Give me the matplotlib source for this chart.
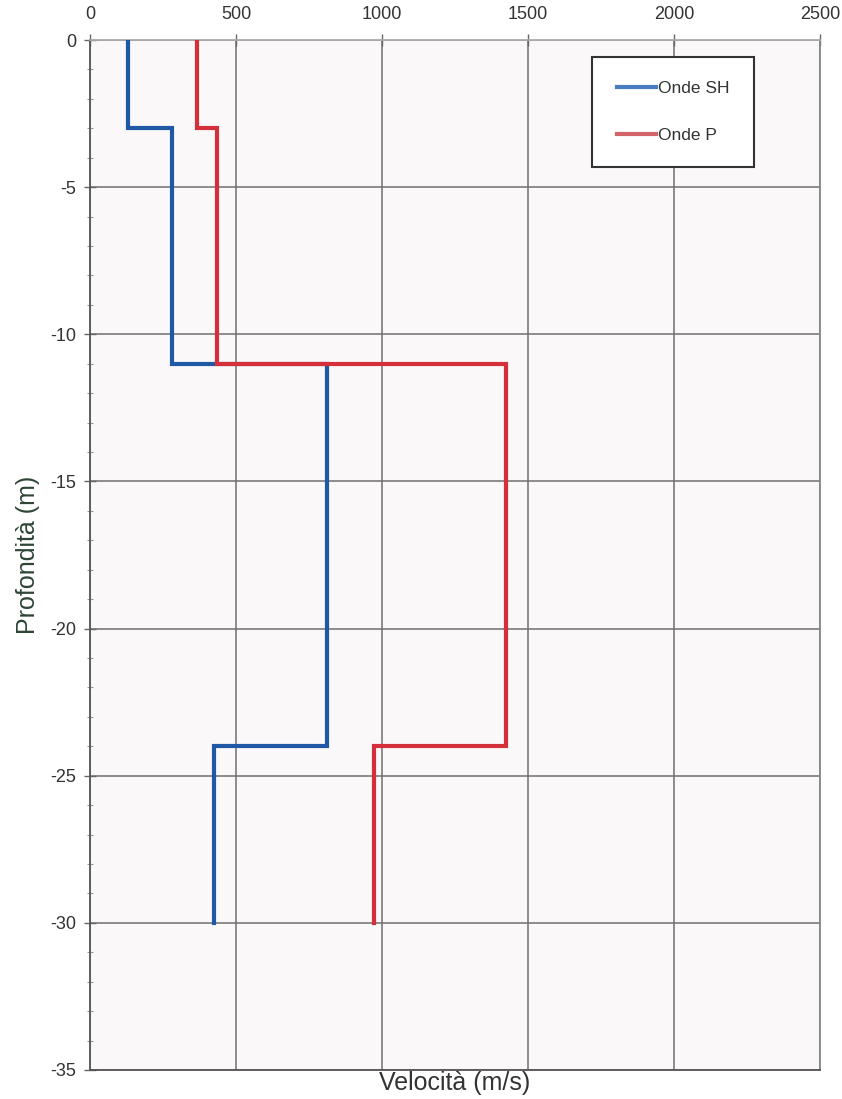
"""
profilo.py — profilo di velocità sismica (onde SH e P) in funzione della profondità
"""

import matplotlib
matplotlib.use("Agg")
import matplotlib.pyplot as plt
from matplotlib.ticker import MultipleLocator

plt.rcParams["font.family"] = ["Liberation Sans", "DejaVu Sans"]
plt.rcParams["axes.unicode_minus"] = False

# strati: profondità di tetto e letto (m), velocità (m/s)
layer_top = [0, -3, -11, -24]
layer_bottom = [-3, -11, -24, -30]
vel_sh = [130, 281, 811, 425]
vel_p = [366, 435, 1425, 973]

x_ticks = [0, 500, 1000, 1500, 2000, 2500]
y_ticks = [0, -5, -10, -15, -20, -25, -30, -35]


def step_profile(vel):
    xs, ys = [], []
    for v, top, bot in zip(vel, layer_top, layer_bottom):
        xs += [v, v]
        ys += [top, bot]
    return xs, ys


fig = plt.figure(figsize=(8.42, 10.99), dpi=100)
ax = fig.add_axes([0.1069, 0.0264, 0.867, 0.9372])
ax.set_facecolor("#fbf8f9")

xs, ys = step_profile(vel_sh)
ax.plot(xs, ys, color="#1f58a5", lw=3.0, solid_joinstyle="miter", label="Onde SH", zorder=3)
xs, ys = step_profile(vel_p)
ax.plot(xs, ys, color="#d62f3c", lw=3.0, solid_joinstyle="miter", label="Onde P", zorder=3)

ax.set_xlim(0, 2500)
ax.set_ylim(-35, 0)
ax.set_xticks(x_ticks)
ax.set_xticklabels([str(t) for t in x_ticks])
ax.set_yticks(y_ticks)
ax.set_yticklabels([str(t) for t in y_ticks])
ax.yaxis.set_minor_locator(MultipleLocator(1))

ax.xaxis.tick_top()
ax.xaxis.set_label_position("bottom")
ax.tick_params(axis="both", which="major", labelsize=13, labelcolor="#333333",
               direction="inout", length=8, width=1.0, color="#666666")
ax.tick_params(axis="y", which="minor", direction="inout", length=5, width=0.8, color="#999999")
ax.tick_params(axis="x", pad=8)
ax.tick_params(axis="y", pad=6)

ax.grid(True, which="major", color="#707070", lw=1.1)
ax.set_axisbelow(True)

for side, col in {"left": "#555555", "bottom": "#555555", "top": "#aaaaaa", "right": "#888888"}.items():
    ax.spines[side].set_color(col)
    ax.spines[side].set_linewidth(1.3)

ax.set_xlabel("Velocità (m/s)", fontsize=18, color="#333333", labelpad=1)
ax.set_ylabel("Profondità (m)", fontsize=18, color="#2e4536", labelpad=7)

leg = ax.legend(loc="upper right", bbox_to_anchor=(0.9096, 0.9835), borderaxespad=0,
                fontsize=12.5, handlelength=2.3, handletextpad=0.1, labelspacing=1.8,
                borderpad=1.4, fancybox=False, framealpha=1, facecolor="white",
                edgecolor="#333333")
leg.get_frame().set_linewidth(1.5)
leg.get_lines()[0].set_color("#4a7cc4")
leg.get_lines()[1].set_color("#d06468")
for t in leg.get_texts():
    t.set_color("#333333")

fig.savefig("out.png", dpi=100, facecolor="white")
